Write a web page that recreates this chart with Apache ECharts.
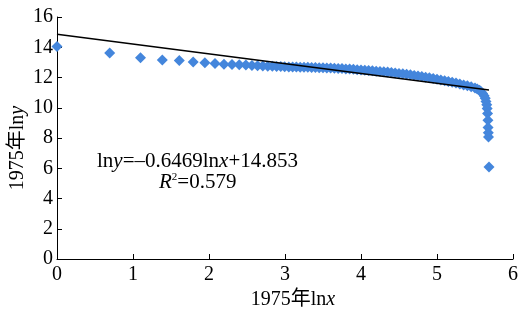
<!DOCTYPE html>
<html>
<head>
<meta charset="utf-8">
<style>
  html, body { margin: 0; padding: 0; background: #fff; }
  #chart { width: 529px; height: 321px; }
</style>
<script src="https://cdn.jsdelivr.net/npm/echarts@6/dist/echarts.min.js"></script>
</head>
<body>
<div id="chart"></div>
<script>
  // ln(rank) and ln(size)
  const lnX = [
    0, 0.693, 1.099, 1.386, 1.609, 1.792, 1.946, 2.079, 2.197, 2.303,
    2.398, 2.485, 2.565, 2.639, 2.708, 2.773, 2.833, 2.890, 2.944, 2.996,
    3.05, 3.10, 3.15, 3.20, 3.25, 3.30, 3.35, 3.40, 3.45, 3.50,
    3.55, 3.60, 3.65, 3.70, 3.75, 3.80, 3.85, 3.90, 3.95, 4.00,
    4.05, 4.10, 4.15, 4.20, 4.25, 4.30, 4.35, 4.40, 4.45, 4.50,
    4.55, 4.60, 4.65, 4.70, 4.75, 4.80, 4.85, 4.90, 4.95, 5.00,
    5.05, 5.10, 5.15, 5.20, 5.25, 5.30, 5.35, 5.40, 5.45, 5.50,
    5.53, 5.56, 5.58, 5.60, 5.62, 5.635, 5.645, 5.655, 5.66, 5.665,
    5.67, 5.672, 5.675, 5.678, 5.684
  ];
  const lnY = [
    14.05, 13.62, 13.31, 13.15, 13.12, 13.02, 12.97, 12.92, 12.88, 12.86,
    12.84, 12.82, 12.80, 12.78, 12.76, 12.75, 12.74, 12.73, 12.72, 12.71,
    12.70, 12.70, 12.69, 12.68, 12.68, 12.67, 12.66, 12.66, 12.65, 12.64,
    12.63, 12.62, 12.61, 12.60, 12.59, 12.57, 12.56, 12.54, 12.52, 12.50,
    12.48, 12.46, 12.44, 12.42, 12.40, 12.38, 12.36, 12.33, 12.30, 12.27,
    12.24, 12.21, 12.18, 12.14, 12.10, 12.06, 12.02, 11.98, 11.93, 11.88,
    11.83, 11.78, 11.73, 11.68, 11.63, 11.57, 11.51, 11.45, 11.39, 11.31,
    11.24, 11.15, 11.06, 10.95, 10.80, 10.62, 10.42, 10.20, 9.95, 9.62,
    9.17, 8.69, 8.35, 8.07, 6.09
  ];

  // fitted line lny = slope*lnx + intercept
  const slope = -0.6469;
  const intercept = 14.853;
  const fitRange = [0, 5.684];

  const xTicks = [0, 1, 2, 3, 4, 5, 6];
  const yTicks = [0, 2, 4, 6, 8, 10, 12, 14, 16];

  const serif = "'Liberation Serif', 'Times New Roman', 'Noto Sans CJK SC', serif";
  const fs = 20;

  const points = lnX.map((x, i) => [x, lnY[i]]);
  const fitLine = fitRange.map(x => [x, slope * x + intercept]);

  const nameRich = {
    a: { fontFamily: serif, fontSize: fs, color: '#000' },
    b: { fontFamily: serif, fontSize: fs, fontStyle: 'italic', color: '#000' }
  };

  const chart = echarts.init(document.getElementById('chart'));

  chart.setOption({
    backgroundColor: '#fff',
    animation: false,
    grid: {
      left: 57,
      right: 16,
      top: 17,
      bottom: 62,
      containLabel: false,
      outerBoundsMode: 'none'
    },
    xAxis: {
      type: 'value',
      min: xTicks[0],
      max: xTicks[xTicks.length - 1],
      interval: 1,
      name: '{a|1975年ln}{b|x}',
      nameLocation: 'middle',
      nameGap: 31,
      nameMoveOverlap: false,
      nameTextStyle: { padding: [0, 0, 0, 16], rich: nameRich },
      axisLine: { lineStyle: { color: '#000', width: 1 } },
      axisTick: { inside: true, length: 5, lineStyle: { color: '#000' } },
      axisLabel: { color: '#000', fontFamily: serif, fontSize: fs, margin: 6 },
      splitLine: { show: false }
    },
    yAxis: {
      type: 'value',
      min: yTicks[0],
      max: yTicks[yTicks.length - 1],
      interval: 2,
      name: '{a|1975年ln}{b|y}',
      nameLocation: 'middle',
      nameGap: 29,
      nameRotate: 90,
      nameMoveOverlap: false,
      nameTextStyle: { padding: [0, 20, 0, 0], rich: nameRich },
      axisLine: { show: true, lineStyle: { color: '#000', width: 1 } },
      axisTick: { show: true, inside: true, length: 5, lineStyle: { color: '#000' } },
      axisLabel: { color: '#000', fontFamily: serif, fontSize: fs, margin: 4 },
      splitLine: { show: false }
    },
    graphic: [
      {
        type: 'text',
        left: 97,
        top: 151,
        style: {
          text: '{n|ln}{i|y}{n|=–0.6469ln}{i|x}{n|+14.853}',
          rich: {
            n: { fontFamily: serif, fontSize: 21, fill: '#000' },
            i: { fontFamily: serif, fontSize: 21, fontStyle: 'italic', fill: '#000' }
          }
        }
      },
      {
        type: 'text',
        left: 159,
        top: 172,
        style: {
          text: '{i|R}{s|2}{n|=0.579}',
          rich: {
            n: { fontFamily: serif, fontSize: 21, fill: '#000' },
            i: { fontFamily: serif, fontSize: 21, fontStyle: 'italic', fill: '#000' },
            s: { fontFamily: serif, fontSize: 11, fill: '#000', verticalAlign: 'top', padding: [0, 0, 8, 0] }
          }
        }
      }
    ],
    series: [
      {
        type: 'scatter',
        data: points,
        symbol: 'diamond',
        symbolSize: 11,
        itemStyle: { color: '#4486dc', opacity: 1 },
        z: 2
      },
      {
        type: 'line',
        data: fitLine,
        showSymbol: false,
        symbol: 'none',
        lineStyle: { color: '#000', width: 1.5 },
        z: 3
      }
    ]
  });
</script>
</body>
</html>
